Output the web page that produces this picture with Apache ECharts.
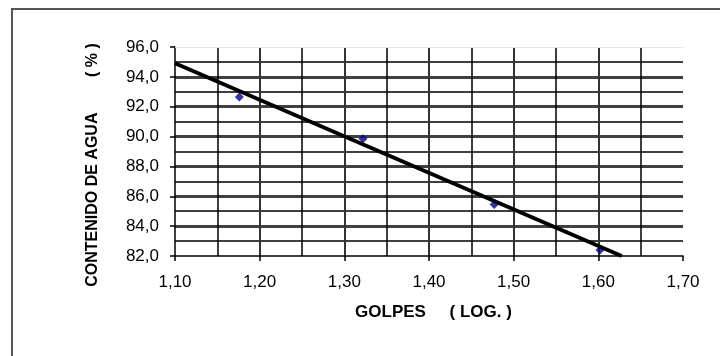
<!DOCTYPE html>
<html>
<head>
<meta charset="utf-8">
<script src="https://cdn.jsdelivr.net/npm/echarts@6/dist/echarts.min.js"></script>
<style>
  html, body { margin: 0; padding: 0; background: #fff; }
  #main { width: 720px; height: 356px; }
</style>
</head>
<body>
<div id="main"></div>
<script>
// puntos del ensayo (log golpes, contenido de agua %)
var golpesLog = [1.176, 1.322, 1.477, 1.602];
var contenidoAgua = [92.65, 89.85, 85.45, 82.4];
// recta de tendencia (extremos)
var trendX = [1.1, 1.6276];
var trendY = [94.91, 82.0];

var FONT = '"Liberation Sans", Arial, sans-serif';

var myChart = echarts.init(document.getElementById('main'));

var puntos = golpesLog.map(function (x, i) { return [x, contenidoAgua[i]]; });
var recta = trendX.map(function (x, i) { return [x, trendY[i]]; });

var option = {
  animation: false,
  backgroundColor: '#fff',
  grid: { left: 175, right: 37, top: 47, bottom: 100 },
  graphic: [{
    type: 'rect',
    shape: { x: 12, y: 9, width: 760, height: 400 },
    style: { fill: 'none', stroke: '#555', lineWidth: 2 },
    silent: true
  }],
  xAxis: {
    type: 'value',
    min: 1.1,
    max: 1.7,
    interval: 0.1,
    name: 'GOLPES     ( LOG. )',
    nameLocation: 'middle',
    nameGap: 48,
    nameTextStyle: { fontFamily: FONT, fontSize: 17, fontWeight: 'bold', color: '#000', padding: [0, 0, 0, 9] },
    axisLine: { lineStyle: { color: '#000', width: 1.5 } },
    axisTick: { show: true, inside: false, length: 5, lineStyle: { color: '#000', width: 1.5 } },
    axisLabel: {
      fontFamily: FONT, fontSize: 17, color: '#000', margin: 18,
      formatter: function (v) { return v.toFixed(2).replace('.', ','); }
    },
    splitLine: { show: true, showMinLine: false, showMaxLine: false, lineStyle: { color: '#333', width: 2 } },
    minorTick: { show: false, splitNumber: 2 },
    minorSplitLine: { show: true, lineStyle: { color: '#000', width: 1.5 } }
  },
  yAxis: {
    type: 'value',
    min: 82,
    max: 96,
    interval: 2,
    name: 'CONTENIDO DE AGUA        ( % )',
    nameLocation: 'middle',
    nameGap: 74,
    nameTextStyle: { fontFamily: FONT, fontSize: 16, fontWeight: 'bold', color: '#000', padding: [0, 27, 0, 0] },
    axisLine: { show: true, lineStyle: { color: '#000', width: 1.5 } },
    axisTick: { show: true, inside: false, length: 5, lineStyle: { color: '#000', width: 1.5 } },
    axisLabel: {
      fontFamily: FONT, fontSize: 17, color: '#000', margin: 16,
      formatter: function (v) { return v.toFixed(1).replace('.', ','); }
    },
    splitLine: { show: true, showMinLine: false, showMaxLine: false, lineStyle: { color: '#404040', width: 3 } },
    minorTick: { show: false, splitNumber: 2 },
    minorSplitLine: { show: true, lineStyle: { color: '#000', width: 1.5 } }
  },
  series: [{
    name: 'Tendencia',
    type: 'line',
    data: recta,
    symbol: 'none',
    lineStyle: { color: '#000', width: 4 },
    z: 3,
    markLine: {
      silent: true,
      symbol: 'none',
      label: { show: false },
      lineStyle: { color: '#e4e4e4', width: 1, type: 'solid' },
      data: [{ yAxis: 96 }]
    }
  }, {
    name: 'Ensayo',
    type: 'scatter',
    data: puntos,
    symbol: 'diamond',
    symbolSize: 9,
    itemStyle: { color: '#00008B' },
    z: 2
  }]
};

myChart.setOption(option);
</script>
</body>
</html>
